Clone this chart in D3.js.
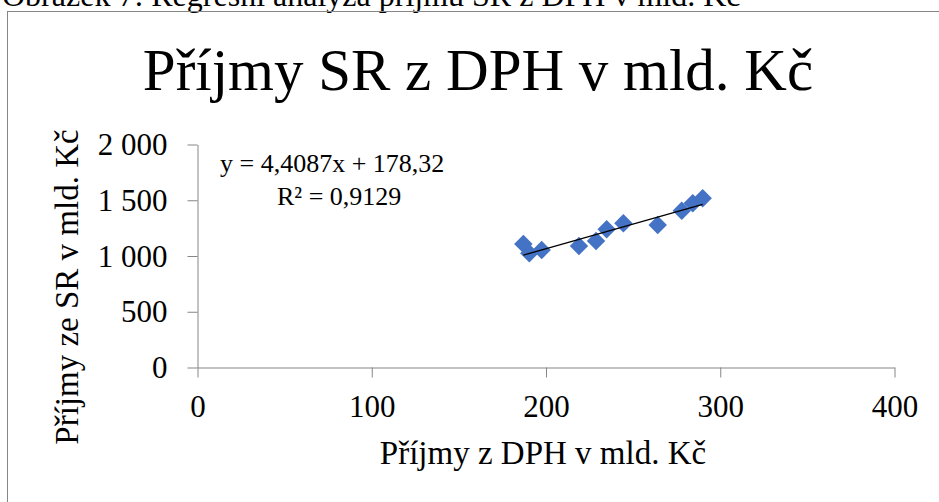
<!DOCTYPE html>
<html>
<head>
<meta charset="utf-8">
<script src="https://cdn.jsdelivr.net/npm/d3@7"></script>
<style>
  html, body { margin: 0; padding: 0; background: #fff; }
  svg { display: block; }
  svg text { font-family: "Liberation Serif", "Times New Roman", serif; }
</style>
</head>
<body>
<svg id="chart" width="939" height="502"></svg>
<script>
// ---- data ----
const vatRevenue   = [187.3, 190.7, 197.8, 219.2, 229.0, 235.1, 244.7, 264.4, 278.2, 284.5, 290.2]; // Příjmy z DPH
const stateRevenue = [1103, 1020, 1049, 1085, 1130, 1235, 1289, 1274, 1402, 1468, 1513];        // Příjmy ze SR
const xTicks = [0, 100, 200, 300, 400];
const yTicks = [0, 500, 1000, 1500, 2000];
const trendSlope = 4.4087;
const trendIntercept = 178.32;
const equationLabel = "y = 4,4087x + 178,32";
const r2Label = "R² = 0,9129";
const captionText = "Obrázek 7: Regresní analýza příjmů SR z DPH v mld. Kč";
const titleText = "Příjmy SR z DPH v mld. Kč";
const xTitleText = "Příjmy z DPH v mld. Kč";
const yTitleText = "Příjmy ze SR v mld. Kč";

const FONT = "Liberation Serif, Times New Roman, serif";
const svg = d3.select("#chart");
const axisColor = "#868686";
const pointColor = "#4472C4";

function txt(sel) { return sel.attr("font-family", FONT).attr("fill", "#000"); }

// caption (cut off at top)
txt(svg.append("text")).attr("x", 2).attr("y", 6)
  .attr("font-size", 32).text(captionText);

// frame
svg.append("rect").attr("x", 7.5).attr("y", 11.5).attr("width", 960).attr("height", 520)
  .attr("fill", "none").attr("stroke", axisColor).attr("stroke-width", 1);

// title
txt(svg.append("text")).attr("x", 478).attr("y", 90).attr("text-anchor", "middle")
  .attr("font-size", 59).text(titleText);

const x = d3.scaleLinear().domain([0, 400]).range([197, 894]);
const y = d3.scaleLinear().domain([0, 2000]).range([367, 144]);

const fmt = d => d3.format(",")(d).replace(/,/g, "\u00A0");

// y axis
const gy = svg.append("g").attr("transform", "translate(197.5,0.5)")
  .call(d3.axisLeft(y).tickValues(yTicks).tickFormat(fmt).tickSize(10).tickSizeOuter(0).tickPadding(20));
gy.attr("font-family", FONT);
gy.select(".domain").attr("stroke", axisColor);
gy.selectAll(".tick line").attr("stroke", axisColor);
gy.selectAll(".tick text").attr("font-size", 31).attr("fill", "#000")
  .attr("font-family", FONT).attr("dy", "0.33em");

// x axis
const gx = svg.append("g").attr("transform", "translate(0.5,367.5)")
  .call(d3.axisBottom(x).tickValues(xTicks).tickFormat(fmt).tickSize(10).tickSizeOuter(0));
gx.attr("font-family", FONT);
gx.select(".domain").attr("stroke", axisColor);
gx.selectAll(".tick line").attr("stroke", axisColor);
gx.selectAll(".tick text").attr("font-size", 31).attr("fill", "#000")
  .attr("font-family", FONT).attr("dy", null).attr("y", 49);

// axis titles
txt(svg.append("text")).attr("x", 543).attr("y", 464).attr("text-anchor", "middle")
  .attr("font-size", 33).text(xTitleText);
txt(svg.append("text")).attr("transform", "translate(78,287) rotate(-90)").attr("text-anchor", "middle")
  .attr("font-size", 33).text(yTitleText);

// points
const pts = vatRevenue.map((v, i) => ({ x: v, y: stateRevenue[i] }));
svg.append("g").selectAll("path").data(pts).join("path")
  .attr("d", d3.symbol(d3.symbolSquare, 170))
  .attr("transform", d => `translate(${x(d.x)},${y(d.y)}) rotate(45)`)
  .attr("fill", pointColor);

// trendline
const [xmin, xmax] = d3.extent(vatRevenue);
svg.append("line")
  .attr("x1", x(xmin)).attr("y1", y(trendSlope * xmin + trendIntercept))
  .attr("x2", x(xmax)).attr("y2", y(trendSlope * xmax + trendIntercept))
  .attr("stroke", "#000").attr("stroke-width", 1.25);

// equation label
txt(svg.append("text")).attr("x", 220).attr("y", 172).attr("font-size", 26).text(equationLabel);
txt(svg.append("text")).attr("x", 277).attr("y", 205).attr("font-size", 26).text(r2Label);
</script>
</body>
</html>
